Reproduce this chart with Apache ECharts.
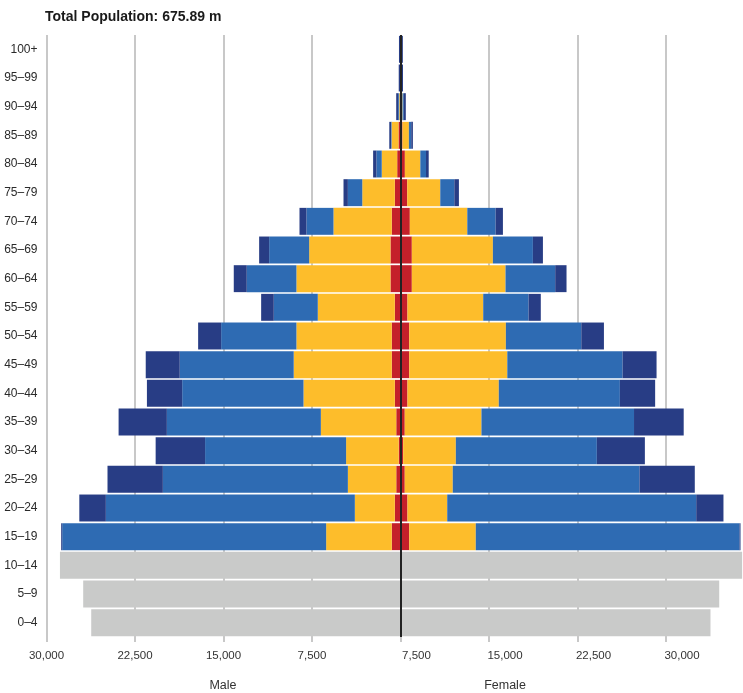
<!DOCTYPE html>
<html>
<head>
<meta charset="utf-8">
<script src="https://cdn.jsdelivr.net/npm/echarts@6/dist/echarts.min.js"></script>
<style>
html,body{margin:0;padding:0;background:#fff;}
#c{width:743px;height:693px;}
</style>
</head>
<body>
<div id="c"></div>
<script>
// Age groups, bottom to top
const ageGroups = ['0–4','5–9','10–14','15–19','20–24','25–29','30–34','35–39','40–44','45–49','50–54','55–59','60–64','65–69','70–74','75–79','80–84','85–89','90–94','95–99','100+'];
const youngGroups = 3; // 0–4, 5–9, 10–14 drawn in grey

// Young (0–14), male and female
const maleYoung   = [26210, 26890, 28860];
const femaleYoung = [26270, 27010, 28950];

// Adults 15–19 ... 100+ (four segments from centre outward)
const maleRed    = [740, 480, 360, 150, 360, 480, 740, 740, 480, 850, 850, 740, 480, 280, 170, 40, 0, 0];
const maleYellow = [5560, 3390, 4100, 4460, 6390, 7740, 8310, 8080, 6530, 7970, 6890, 4940, 2760, 1310, 590, 70, 0, 0];
const maleBlue   = [22370, 21100, 15680, 11950, 13050, 10280, 9660, 6380, 3730, 4210, 3390, 2290, 1220, 450, 40, 85, 0, 0];
const maleDark   = [85, 2250, 4690, 4190, 4090, 2990, 2880, 1950, 1070, 1100, 850, 590, 370, 280, 150, 170, 150, 130];

const femaleRed    = [740, 590, 360, 230, 360, 590, 740, 740, 590, 960, 960, 790, 570, 370, 170, 40, 0, 0];
const femaleYellow = [5640, 3370, 4070, 4460, 6500, 7740, 8310, 8190, 6420, 7940, 6870, 4870, 2800, 1310, 540, 130, 0, 0];
const femaleBlue   = [22350, 21100, 15820, 11950, 12930, 10260, 9770, 6390, 3840, 4210, 3390, 2400, 1190, 480, 200, 110, 40, 0];
const femaleDark   = [85, 2310, 4690, 4070, 4210, 2990, 2880, 1920, 1040, 960, 850, 620, 390, 230, 140, 170, 170, 200];

const tickStep = 7500;
const axisLimit = 30000;
const titleText = 'Total Population: 675.89 m';
const sideLabels = ['Male', 'Female'];

const FONT = '"Liberation Sans Narrow", "Arial Narrow", "Liberation Sans", Arial, sans-serif';

const blanks = n => Array(n).fill('-');
const neg = arr => arr.map(v => (v === '-' ? v : -v));
const adult = (arr, sign) => blanks(youngGroups).concat(sign < 0 ? neg(arr) : arr);
const young = (arr, sign) => (sign < 0 ? neg(arr) : arr).concat(blanks(ageGroups.length - youngGroups));

const fmt = v => Math.abs(v).toLocaleString('en-US');

const colors = {red:'#c4202a', yellow:'#fdbd2b', blue:'#2e6bb3', dark:'#283d85', grey:'#c9cac9'};

function bar(name, data, color, stack, extra) {
  return Object.assign({
    name, type:'bar', stack, data,
    xAxisIndex:0, yAxisIndex:0,
    barWidth:'94%', barGap:'-100%',
    itemStyle:{color},
    silent:true
  }, extra || {});
}

const chart = echarts.init(document.getElementById('c'));
chart.setOption({
  animation:false,
  title:{
    text:titleText, left:45, top:10, padding:0,
    textStyle:{fontFamily:FONT, fontSize:14, fontWeight:'bold', color:'#1a1a1a'}
  },
  grid:[
    {left:46.5, right:-11.5, top:35, bottom:56, containLabel:false, outerBoundsMode:'none'},
    {left:-26, right:61, top:35, bottom:56, containLabel:false, outerBoundsMode:'none'}
  ],
  xAxis:[
    {
      type:'value', gridIndex:0, min:-axisLimit, max:axisLimit, interval:tickStep,
      axisLine:{show:false},
      axisTick:{show:true, length:5, lineStyle:{color:'#c8c8c8', width:2}},
      splitLine:{show:true, lineStyle:{color:'#c8c8c8', width:2}},
      axisLabel:{
        show:true, margin:13, fontFamily:FONT, fontSize:11.5, color:'#333',
        showMinLabel:true,
        formatter:v => (v < 0 ? fmt(v) : '')
      }
    },
    {
      type:'value', gridIndex:1, min:-axisLimit, max:axisLimit, interval:tickStep,
      axisLine:{show:false}, axisTick:{show:false}, splitLine:{show:false},
      axisLabel:{
        show:true, margin:13, fontFamily:FONT, fontSize:11.5, color:'#333',
        showMaxLabel:true,
        formatter:v => (v > 0 ? fmt(v) : '')
      }
    }
  ],
  yAxis:[
    {
      type:'category', gridIndex:0, data:ageGroups,
      axisLine:{show:false}, axisTick:{show:false}, splitLine:{show:false},
      axisLabel:{margin:9, fontFamily:FONT, fontSize:12, color:'#2a2a2a'}
    },
    {type:'value', gridIndex:1, show:false, min:0, max:1}
  ],
  graphic:[
    {type:'text', x:223, y:686, style:{text:sideLabels[0], font:'12.5px ' + FONT, fill:'#333', align:'center', verticalAlign:'middle'}},
    {type:'text', x:505, y:686, style:{text:sideLabels[1], font:'12.5px ' + FONT, fill:'#333', align:'center', verticalAlign:'middle'}}
  ],
  series:[
    bar('Male 1', adult(maleRed,-1), colors.red, 'm'),
    bar('Male 2', adult(maleYellow,-1), colors.yellow, 'm'),
    bar('Male 3', adult(maleBlue,-1), colors.blue, 'm'),
    bar('Male 4', adult(maleDark,-1), colors.dark, 'm'),
    bar('Female 1', adult(femaleRed,1), colors.red, 'f'),
    bar('Female 2', adult(femaleYellow,1), colors.yellow, 'f'),
    bar('Female 3', adult(femaleBlue,1), colors.blue, 'f'),
    bar('Female 4', adult(femaleDark,1), colors.dark, 'f'),
    bar('Male young', young(maleYoung,-1), colors.grey, 'mg'),
    bar('Female young', young(femaleYoung,1), colors.grey, 'fg', {
      z:3,
      markLine:{
        silent:true, symbol:['none','none'], animation:false,
        label:{show:false},
        lineStyle:{color:'#222', width:2, type:'solid'},
        data:[{xAxis:0}]
      }
    })
  ]
});
</script>
</body>
</html>
